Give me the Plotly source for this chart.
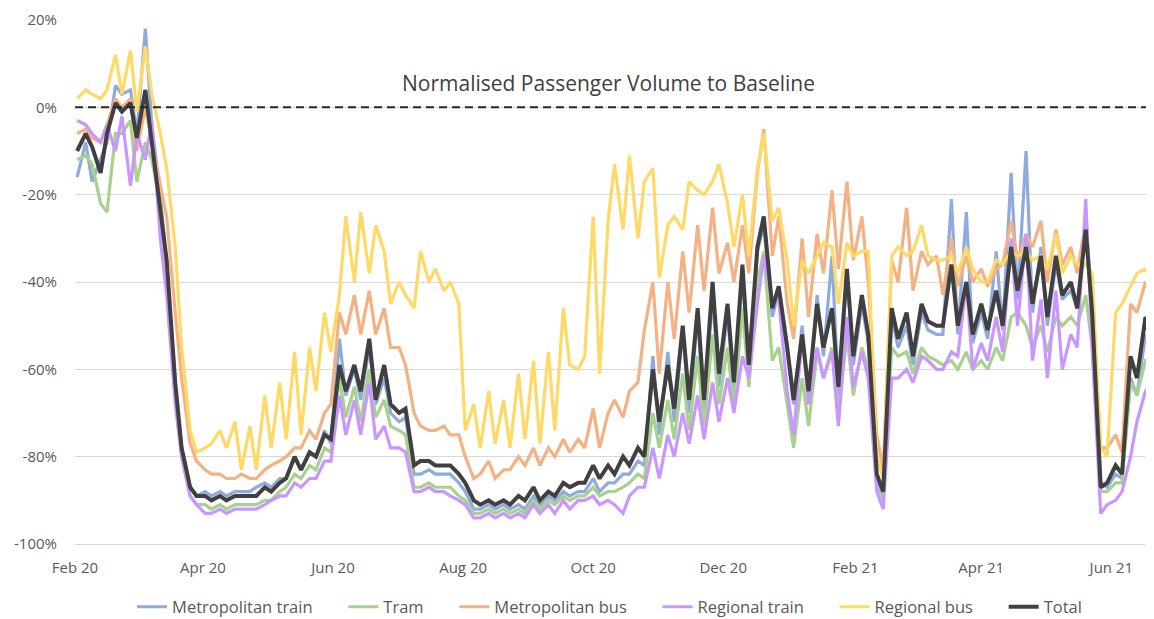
import pandas as pd
import plotly.graph_objects as go

# Sample dates: every Sunday (weekend) and Thursday (weekday), Feb 2020 - Jun 2021
sundays = pd.date_range("2020-02-02", "2021-06-20", freq="W-SUN")
thursdays = pd.date_range("2020-02-06", "2021-06-17", freq="W-THU")
dates = sundays.union(thursdays)

# Values in % vs baseline, order: Sun, Thu, Sun, Thu, ... (one pair per week)
total = [-10,-6, -9,-15, -6,1, -1,1, -7,4, -8,-23, -35,-63, -78,-87, -89,-89, -90,-89,
         -90,-89, -89,-89, -89,-87, -88,-86, -85,-80, -83,-79, -80,-75, -76,-59, -65,-59, -65,-53,
         -67,-59, -68,-70, -69,-82, -81,-81, -82,-82, -82,-84, -86,-90, -91,-90, -91,-90, -91,-89,
         -90,-87, -90,-88, -89,-86, -87,-86, -86,-82, -85,-82, -84,-80, -82,-78, -80,-60, -72,-59,
         -69,-50, -67,-46, -67,-40, -61,-45, -63,-36, -59,-32, -25,-46, -41,-55, -67,-52, -65,-45,
         -55,-46, -64,-37, -57,-43, -52,-84, -88,-46, -53,-47, -57,-45, -49,-50, -50,-36, -50,-40,
         -52,-45, -51,-42, -50,-32, -42,-32, -45,-34, -48,-34, -43,-40, -46,-28, -47,-87, -86,-82,
         -84,-57, -62,-48, -56]
metro_train = [-16,-8, -17,-12, -8,5, 3,4, -6,18, -4,-20, -36,-64, -78,-87, -89,-88, -89,-88,
         -89,-88, -88,-88, -87,-86, -87,-85, -85,-80, -83,-79, -80,-74, -77,-53, -66,-60, -67,-55,
         -68,-62, -70,-72, -71,-84, -84,-83, -84,-84, -84,-86, -88,-92, -92,-91, -92,-91, -92,-91,
         -92,-89, -91,-89, -90,-88, -89,-88, -88,-85, -88,-86, -86,-84, -84,-81, -82,-57, -75,-56,
         -72,-51, -70,-48, -70,-43, -64,-47, -66,-38, -62,-33, -27,-48, -42,-56, -68,-50, -68,-43,
         -57,-34, -66,-38, -59,-45, -54,-85, -89,-48, -55,-50, -59,-47, -51,-52, -52,-21, -52,-24,
         -54,-47, -53,-33, -51,-15, -44,-10, -47,-32, -50,-36, -44,-42, -46,-25, -48,-86, -87,-84,
         -85,-62, -66,-52, -58]
tram = [-12,-11, -13,-22, -24,-6, -6,-3, -17,-8, -12,-22, -38,-66, -80,-89, -91,-91, -92,-91,
         -92,-91, -91,-91, -91,-90, -90,-88, -87,-84, -85,-82, -83,-78, -79,-62, -71,-64, -72,-60,
         -71,-67, -73,-74, -75,-87, -87,-86, -87,-87, -87,-89, -90,-93, -93,-92, -93,-92, -93,-92,
         -93,-90, -92,-90, -91,-89, -90,-89, -89,-87, -89,-88, -88,-87, -86,-84, -85,-70, -78,-67,
         -76,-61, -74,-57, -73,-52, -68,-55, -69,-46, -64,-40, -33,-58, -55,-68, -78,-62, -73,-56,
         -62,-55, -70,-52, -66,-55, -60,-87, -90,-55, -57,-56, -61,-55, -57,-58, -59,-58, -60,-56,
         -60,-58, -60,-55, -58,-48, -47,-50, -55,-50, -56,-48, -50,-48, -50,-43, -55,-88, -88,-86,
         -86,-63, -66,-58, -58]
metro_bus = [-6,-5, -7,-8, -4,2, 0,2, -10,0, -8,-18, -25,-47, -62,-77, -81,-83, -84,-84,
         -85,-85, -84,-85, -85,-83, -82,-81, -80,-78, -78,-74, -76,-70, -68,-47, -52,-43, -52,-42,
         -52,-46, -55,-55, -59,-70, -73,-74, -74,-73, -75,-75, -80,-85, -84,-81, -85,-83, -83,-80,
         -82,-78, -82,-78, -80,-76, -79,-76, -78,-69, -78,-70, -67,-71, -65,-63, -51,-40, -61,-40,
         -53,-33, -47,-27, -42,-23, -38,-31, -40,-27, -38,-15, -5,-34, -25,-45, -53,-30, -48,-29,
         -38,-19, -37,-17, -35,-25, -40,-75, -83,-35, -40,-23, -42,-33, -36,-34, -43,-30, -41,-34,
         -40,-37, -41,-37, -36,-26, -35,-29, -32,-26, -40,-28, -36,-32, -38,-26, -45,-78, -78,-75,
         -79,-45, -47,-40, -44]
regional_train = [-3,-4, -6,-8, -4,-10, -2,-18, -6,-12, -3,-30, -43,-68, -80,-89, -91,-93, -93,-92,
         -93,-92, -92,-92, -92,-91, -90,-89, -89,-86, -87,-85, -85,-81, -81,-66, -75,-67, -75,-63,
         -76,-73, -78,-78, -79,-88, -88,-87, -88,-88, -89,-90, -91,-94, -94,-93, -94,-93, -94,-93,
         -94,-91, -93,-91, -93,-90, -92,-90, -90,-89, -91,-90, -91,-93, -89,-87, -87,-78, -85,-75,
         -80,-70, -77,-66, -76,-63, -72,-62, -70,-57, -62,-45, -34,-45, -44,-65, -75,-52, -68,-55,
         -62,-56, -73,-48, -64,-56, -62,-88, -92,-62, -62,-60, -63,-57, -58,-60, -60,-56, -57,-40,
         -60,-54, -58,-48, -56,-30, -50,-29, -58,-44, -62,-42, -60,-52, -55,-21, -55,-93, -91,-90,
         -88,-80, -72,-65, -63]
regional_bus = [2,4, 3,2, 4,12, 3,13, -1,14, 3,-6, -14,-32, -55,-74, -79,-78, -77,-74,
         -78,-72, -83,-73, -83,-66, -78,-63, -76,-56, -75,-55, -65,-47, -56,-43, -25,-40, -24,-38,
         -27,-33, -45,-40, -43,-46, -33,-40, -37,-42, -40,-45, -74,-68, -78,-65, -77,-67, -78,-61,
         -76,-58, -77,-56, -74,-46, -59,-60, -57,-25, -61,-26, -13,-28, -11,-30, -17,-14, -39,-27,
         -25,-28, -17,-19, -20,-17, -13,-22, -32,-20, -34,-14, -6,-26, -23,-35, -50,-35, -38,-34,
         -31,-32, -45,-31, -34,-33, -33,-80, -85,-34, -32,-34, -33,-27, -34,-35, -35,-34, -38,-32,
         -37,-40, -40,-35, -36,-33, -34,-33, -35,-34, -37,-29, -38,-34, -36,-36, -38,-78, -80,-47,
         -45,-41, -38,-37, -40]

series_names = ["Metropolitan train", "Tram", "Metropolitan bus", "Regional train", "Regional bus", "Total"]
series_values = [metro_train, tram, metro_bus, regional_train, regional_bus, total]
series_colors = ["#8FAADC", "#A9D18E", "#F4B183", "#C996FF", "#FFD966", "#404040"]
series_widths = [3.2, 3.2, 3.2, 3.2, 3.2, 4]

y_tick_vals = [-100, -80, -60, -40, -20, 0, 20]
y_tick_text = ["-100%", "-80%", "-60%", "-40%", "-20%", "0%", "20%"]

LEGEND_PAD = "\u00a0" * 6  # extra spacing between legend entries

fig = go.Figure()
for i, (name, vals, col, w) in enumerate(zip(series_names, series_values, series_colors, series_widths)):
    label = name + (LEGEND_PAD if i < len(series_names) - 1 else "")
    fig.add_trace(go.Scatter(x=dates, y=vals, mode="lines", name=label,
                             line=dict(color=col, width=w)))

fig.add_shape(type="line", xref="paper", x0=0, x1=1, yref="y", y0=0, y1=0,
              line=dict(color="#262626", width=2, dash="8px,5px"))

fig.add_annotation(text="Normalised Passenger Volume to Baseline", xref="paper", yref="paper",
                   x=0.494, y=0.88, showarrow=False, xanchor="center", yanchor="middle",
                   font=dict(family="Open Sans", size=21, color="#404040"))

# the page body has an 8px margin, so the figure is sized to fit the window from (8, 8)
fig.update_layout(
    width=1146, height=611,
    margin=dict(l=67, r=0, t=12, b=75, autoexpand=False),
    plot_bgcolor="white", paper_bgcolor="white",
    font=dict(family="Open Sans", size=15, color="#595959"),
    showlegend=True,
    legend=dict(orientation="h", x=0.4954, xanchor="center",
                yref="container", y=0.0196, yanchor="middle",
                font=dict(family="Open Sans", size=16.5, color="#595959"),
                itemwidth=30, tracegroupgap=0),
)
fig.update_xaxes(type="date", range=["2020-02-01", "2021-06-21"],
                 tick0="2020-02-01", dtick="M2", tickformat="%b %y",
                 showgrid=False, showline=True, linecolor="#D9D9D9", linewidth=1,
                 ticks="", ticklabelstandoff=10, zeroline=False,
                 tickfont=dict(family="Open Sans", size=15, color="#595959"))
fig.update_yaxes(range=[-100, 20], tickvals=y_tick_vals, ticktext=y_tick_text,
                 showgrid=True, gridcolor="#D9D9D9", gridwidth=1, zeroline=False,
                 ticks="", ticklabelstandoff=17,
                 tickfont=dict(family="Open Sans", size=15, color="#595959"))

fig.write_html("out.html")
